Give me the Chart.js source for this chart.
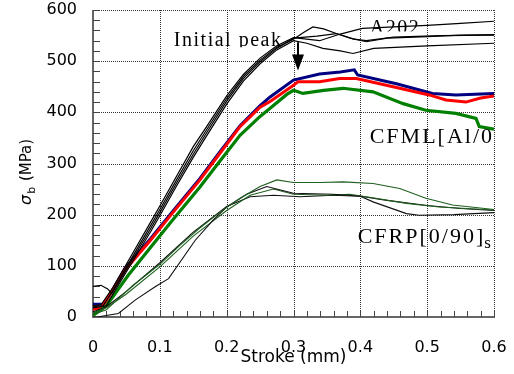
<!DOCTYPE html>
<html><head><meta charset="utf-8">
<script src="https://cdn.jsdelivr.net/npm/chart.js@4/dist/chart.umd.min.js"></script>
<style>html,body{margin:0;padding:0;background:#fff}canvas{display:block}</style>
</head><body>
<canvas id="c" width="514" height="374"></canvas>
<script>
// ---- data (stroke mm, sigma_b MPa) ----
const xTickValues = [0, 0.1, 0.2, 0.3, 0.4, 0.5, 0.6];
const yTickValues = [0, 100, 200, 300, 400, 500, 600];

const a2024_1 = [[0,20],[0.015,22],[0.03,52],[0.06,120],[0.086,178],[0.1,210],[0.125,268],[0.15,325],[0.17,366],[0.2,427],[0.225,470],[0.25,502],[0.275,527],[0.3,543],[0.315,556],[0.329,567],[0.345,563],[0.364,554],[0.385,545],[0.409,538],[0.44,545],[0.5,548],[0.55,551],[0.6,552]];
const a2024_2 = [[0,18],[0.02,22],[0.03,45],[0.06,110],[0.086,166],[0.1,198],[0.125,256],[0.15,312],[0.17,354],[0.2,416],[0.225,461],[0.25,495],[0.275,522],[0.3,540],[0.32,535],[0.344,525],[0.37,520],[0.389,515],[0.42,525],[0.5,530],[0.6,535]];
const a2024_3 = [[0,22],[0.012,24],[0.03,58],[0.06,126],[0.086,185],[0.1,217],[0.125,275],[0.15,333],[0.17,372],[0.2,432],[0.225,474],[0.25,506],[0.275,530],[0.3,546],[0.339,540],[0.37,553],[0.403,564],[0.45,567],[0.5,570],[0.55,574],[0.6,578]];
const a2024_4 = [[0,60],[0.012,62],[0.022,55],[0.028,46],[0.036,62],[0.06,115],[0.086,172],[0.1,204],[0.125,262],[0.15,318],[0.17,360],[0.2,422],[0.225,466],[0.25,499],[0.275,525],[0.3,545],[0.335,549],[0.364,554],[0.39,543],[0.409,540],[0.45,547],[0.52,550],[0.6,551]];

const cfmlBlue  = [[0,25],[0.015,25],[0.02,32],[0.048,95],[0.086,153],[0.117,203],[0.16,271],[0.19,323],[0.22,374],[0.25,413],[0.265,430],[0.3,463],[0.339,475],[0.37,479],[0.391,483],[0.396,473],[0.454,456],[0.508,437],[0.543,434],[0.6,437]];
const cfmlRed   = [[0,15],[0.013,18],[0.048,92],[0.086,150],[0.117,200],[0.16,268],[0.19,320],[0.22,372],[0.25,410],[0.265,421],[0.3,453],[0.307,460],[0.339,460],[0.369,466],[0.394,466],[0.449,450],[0.503,434],[0.528,424],[0.558,420],[0.58,428],[0.6,432]];
const cfmlGreen = [[0,3],[0.02,22],[0.053,82],[0.086,136],[0.117,186],[0.16,254],[0.19,305],[0.22,355],[0.25,392],[0.265,408],[0.29,435],[0.3,443],[0.314,437],[0.345,443],[0.374,447],[0.419,440],[0.464,417],[0.498,404],[0.543,398],[0.573,388],[0.578,372],[0.6,367]];

const cfrp_1 = [[0,5],[0.02,14],[0.038,36],[0.06,62],[0.1,103],[0.13,140],[0.158,172],[0.19,205],[0.22,232],[0.25,255],[0.275,268],[0.3,263],[0.34,263],[0.374,264],[0.419,261],[0.459,251],[0.498,232],[0.538,219],[0.6,210]];
const cfrp_2 = [[0,0],[0.006,0],[0.038,7],[0.063,33],[0.093,59],[0.113,75],[0.153,150],[0.18,190],[0.2,215],[0.23,240],[0.26,255],[0.3,242],[0.359,240],[0.4,236],[0.419,225],[0.469,202],[0.488,199],[0.54,200],[0.6,204]];
const cfrp_3 = [[0,8],[0.02,18],[0.05,45],[0.1,98],[0.15,158],[0.2,208],[0.235,238],[0.27,250],[0.3,240],[0.35,238],[0.384,240],[0.409,235],[0.469,222],[0.518,215],[0.6,209]];
const cfrp_4 = [[0,10],[0.02,20],[0.05,50],[0.1,106],[0.15,166],[0.2,216],[0.235,235],[0.27,238],[0.31,235],[0.36,238],[0.4,236],[0.44,228],[0.5,218],[0.55,212],[0.6,208]];

function ds(pts, color, w) {
  return { data: pts.map(p => ({x: p[0], y: p[1]})), borderColor: color, borderWidth: w,
           showLine: true, pointRadius: 0, tension: 0, fill: false };
}

// grid, axes and inward ticks drawn through the library's scales (as filled rects)
const frame = {
  id: 'frame',
  beforeDatasetsDraw(chart) {
    const ctx = chart.ctx, xs = chart.scales.x, ys = chart.scales.y;
    const L = Math.round(xs.left), R = Math.round(xs.right), B = Math.round(ys.bottom), T = Math.round(ys.top);
    ctx.save();
    ctx.fillStyle = '#333333';
    xTickValues.forEach(v => {
      if (v === 0) return;
      const px = Math.round(xs.getPixelForValue(v));
      for (let y = T; y < B; y += 2) ctx.fillRect(px, y, 1, 1);
    });
    yTickValues.forEach(v => {
      if (v === 0) return;
      const py = Math.round(ys.getPixelForValue(v));
      for (let x = L; x < R; x += 2) ctx.fillRect(x, py, 1, 1);
    });
    ctx.fillStyle = '#666666';
    ctx.fillRect(L - 1, T, 2, B - T + 1);
    ctx.fillRect(L - 1, B - 1, R - L + 2, 2);
    ctx.fillStyle = '#444444';
    for (let v = 0.02; v < 0.6001; v += 0.02) {
      const px = Math.round(xs.getPixelForValue(v));
      ctx.fillRect(px, B - 6, 1, 6);
    }
    for (let v = 20; v < 600.1; v += 20) {
      const py = Math.round(ys.getPixelForValue(v));
      ctx.fillRect(L, py, 7, 1);
    }
    ctx.restore();
  }
};

const annot = {
  id: 'annot',
  afterDraw(chart) {
    const ctx = chart.ctx, xs = chart.scales.x, ys = chart.scales.y;
    const L = xs.left, R = xs.right;
    ctx.save();
    ctx.fillStyle = '#000';
    ctx.textBaseline = 'alphabetic';
    ctx.textAlign = 'left';
    ctx.letterSpacing = '1.5px';
    ctx.font = '20px "Liberation Serif"';
    ctx.save();
    ctx.beginPath(); ctx.rect(0, 0, 514, ys.getPixelForValue(529) + 1); ctx.clip();
    ctx.fillText('Initial peak', xs.getPixelForValue(0.121), ys.getPixelForValue(529));
    ctx.restore();
    ctx.save();
    ctx.beginPath(); ctx.rect(0, 0, 514, ys.getPixelForValue(558)); ctx.clip();
    ctx.fillText('A202', xs.getPixelForValue(0.414), ys.getPixelForValue(553));
    ctx.restore();
    ctx.letterSpacing = '2px';
    ctx.font = '22px "Liberation Serif"';
    ctx.fillText('CFML[Al/0', xs.getPixelForValue(0.414), ys.getPixelForValue(340));
    const cx = xs.getPixelForValue(0.396), cy = ys.getPixelForValue(145);
    ctx.fillText('CFRP[0/90]', cx, cy);
    const w = ctx.measureText('CFRP[0/90]').width;
    ctx.letterSpacing = '0px';
    ctx.font = '17px "Liberation Serif"';
    ctx.fillText('s', cx + w - 1, cy + 5);

    // arrow
    const ax = Math.round(xs.getPixelForValue(0.307));
    const ay1 = ys.getPixelForValue(537), ay2 = ys.getPixelForValue(482);
    ctx.fillRect(ax - 1, ay1, 2, (ay2 - 14) - ay1);
    ctx.beginPath(); ctx.moveTo(ax - 6, ay2 - 16); ctx.lineTo(ax + 6, ay2 - 16); ctx.lineTo(ax, ay2); ctx.closePath(); ctx.fill();

    // axis titles
    ctx.font = '17px "DejaVu Sans"';
    ctx.textAlign = 'center';
    ctx.fillText('Stroke (mm)', (L + R) / 2, 362);

    ctx.save();
    ctx.translate(31, 205);
    ctx.rotate(-Math.PI / 2);
    ctx.textAlign = 'left';
    ctx.font = 'italic 16px "DejaVu Sans"';
    ctx.fillText('σ', 0, 0);
    let off = ctx.measureText('σ').width;
    ctx.font = '11px "DejaVu Sans"';
    ctx.fillText('b', off + 1, 4);
    off += ctx.measureText('b').width + 2;
    ctx.font = '15px "DejaVu Sans"';
    ctx.fillText(' (MPa)', off, 0);
    ctx.restore();
    ctx.restore();
  }
};

new Chart(document.getElementById('c'), {
  type: 'scatter',
  data: {
    datasets: [
      ds(cfrp_1, '#1f5f1f', 1.1), ds(cfrp_2, '#111', 1.1), ds(cfrp_3, '#1f5f1f', 1.1), ds(cfrp_4, '#111', 1.1),
      ds(a2024_1, '#000', 1.2), ds(a2024_2, '#000', 1.2), ds(a2024_3, '#000', 1.2), ds(a2024_4, '#000', 1.2),
      ds(cfmlGreen, '#008000', 3.2), ds(cfmlRed, '#ff0000', 3), ds(cfmlBlue, '#000080', 3)
    ]
  },
  options: {
    responsive: false, animation: false, devicePixelRatio: 1,
    layout: { padding: { left: 0, top: 10, right: 20, bottom: 0 } },
    plugins: { legend: { display: false }, tooltip: { enabled: false } },
    scales: {
      x: {
        type: 'linear', min: 0, max: 0.6,
        afterBuildTicks: s => { s.ticks = xTickValues.map(v => ({value: v})); },
        afterFit: s => { s.height = 57; },
        ticks: { color: '#000', font: { family: 'DejaVu Sans', size: 16 }, padding: 0, maxRotation: 0,
                 callback: v => String(v) },
        grid: { display: true, drawOnChartArea: false, drawTicks: true, tickLength: 21, tickColor: 'rgba(0,0,0,0)' },
        border: { display: false }
      },
      y: {
        type: 'linear', min: 0, max: 600,
        afterBuildTicks: s => { s.ticks = yTickValues.map(v => ({value: v})); },
        afterFit: s => { s.width = 93; },
        ticks: { color: '#000', font: { family: 'DejaVu Sans', size: 16 }, padding: 0,
                 callback: v => String(v) },
        grid: { display: true, drawOnChartArea: false, drawTicks: true, tickLength: 16, tickColor: 'rgba(0,0,0,0)' },
        border: { display: false }
      }
    }
  },
  plugins: [frame, annot]
});
</script>
</body></html>
